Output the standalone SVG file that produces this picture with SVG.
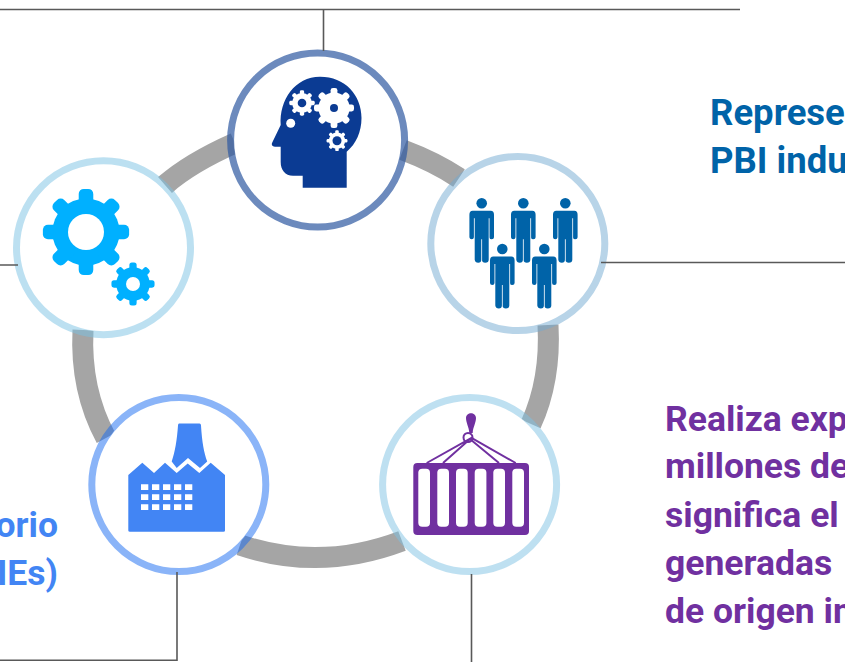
<svg xmlns="http://www.w3.org/2000/svg" width="845" height="662" viewBox="0 0 845 662">
<style>
.f{fill:#fff}
.n{fill:none;stroke-width:7}
.c{fill:none;stroke:#595959;stroke-width:1.6}
.t{font-family:Roboto,"Liberation Sans",sans-serif;font-weight:700;font-size:35.5px}
.w{fill:#fff}
</style>
<defs>
<path id="person" d="M-9-34.500H9Q12.300-34.500 12.300-30.500V-8Q12.300-6 10-6T7.800-8V-27H7V14.500Q7 17.400 3.500 17.400T.4 14.500V-6H-.4V14.500Q-.4 17.400-3.500 17.400T-7 14.500V-27H-7.800V-8Q-7.800-6-10-6T-12.300-8V-30.500Q-12.300-34.500-9-34.500Z"/>
<g id="g8"><circle r="30"/><rect x="-6.500" y="-38.500" width="13" height="77" rx="4.500"/><rect x="-6.500" y="-38.500" width="13" height="77" rx="4.500" transform="rotate(45)"/><rect x="-6.500" y="-38.500" width="13" height="77" rx="4.500" transform="rotate(90)"/><rect x="-6.500" y="-38.500" width="13" height="77" rx="4.500" transform="rotate(135)"/></g>
</defs>
<g id="ring" fill="none" stroke="#a5a5a5" stroke-width="21">
<path d="M165 185Q190 163 235 143"/>
<path d="M403 150Q435 162 459 178"/>
<path d="M548 325Q551 380 531 424"/>
<path d="M402 541Q320 572 240 545"/>
<path d="M83 330Q80 390 106 438"/>
</g>
<g id="node-brain"><circle class="f" cx="317.600" cy="140" r="84"/><circle class="n" cx="317.600" cy="140" r="87" stroke="#2e59a1" stroke-opacity=".7"/>
<path fill="#0b3b93" d="M320 76.700C345 76.700 361.500 95 361.500 118C361.500 132 356 144 346.700 151.700V187.700H302.700V175.700H293C285 175.700 280.700 170 280.700 162V146.700H275C272 146.700 271 144.500 272.500 142L280.700 125C279 100 295 76.700 320 76.700Z"/>
<g class="w"><circle cx="290.700" cy="123.300" r="4.500"/>
<use href="#g8" transform="translate(302 103) scale(.33)"/><use href="#g8" transform="translate(334 108) scale(.52)"/><use href="#g8" transform="translate(337 140.700) scale(.27)"/></g>
<g fill="#0b3b93"><circle cx="302" cy="103" r="4.300"/><circle cx="334" cy="108" r="4"/><circle cx="337" cy="140.700" r="4.500"/></g></g>
<g id="node-people"><circle class="f" cx="517.800" cy="243.500" r="84"/><circle class="n" cx="517.800" cy="243.500" r="87" stroke="#71a9d1" stroke-opacity=".5"/>
<g fill="#0063a8"><circle cx="481.700" cy="203.300" r="5.300"/><circle cx="523.300" cy="203.300" r="5.300"/><circle cx="565.300" cy="203.300" r="5.300"/><circle cx="502.300" cy="249" r="5.300"/><circle cx="544.300" cy="249" r="5.300"/>
<use href="#person" transform="translate(481.700 245.300)"/><use href="#person" transform="translate(523.300 245.300)"/><use href="#person" transform="translate(565.300 245.300)"/><use href="#person" transform="translate(502.300 291)"/><use href="#person" transform="translate(544.300 291)"/></g></g>
<g id="node-gears"><circle class="f" cx="103.500" cy="247.700" r="84"/><circle class="n" cx="103.500" cy="247.700" r="87" stroke="#79c1e3" stroke-opacity=".5"/>
<g fill="#00b0ff"><use href="#g8" transform="translate(86 232) scale(1.120)"/><use href="#g8" transform="translate(133 284) scale(.56)"/></g>
<circle class="w" cx="86" cy="232" r="18"/><circle class="w" cx="133" cy="284" r="7"/></g>
<g id="node-factory"><circle class="f" cx="178.800" cy="484.500" r="84"/><circle class="n" cx="178.800" cy="484.500" r="87" stroke="#1569f1" stroke-opacity=".5"/>
<path fill="#4285f4" d="M179 423.500H199.500C200.500 423.500 201 424.500 201 425.500C202 442 204 453 207.200 461.500L200 468L188 458L176.700 468L171.700 461.500C175 452 177 440 178 425.500C178 424.500 178.500 423.500 179 423.500Z"/>
<path fill="#4285f4" d="M128.300 475L142.300 462.700L154 473L165 462.700L176.700 473L187.700 463.500L199.300 473L210.700 462.700L225 475V530.500Q225 531.700 223.500 531.700H130Q128.300 531.700 128.300 530.500Z"/>
<path class="w" d="M141 484.300h7.300v5.700h-7.300zM152 484.300h7.300v5.700h-7.300zM163 484.300h7.300v5.700h-7.300zM174 484.300h7.300v5.700h-7.300zM185 484.300h7.300v5.700h-7.300zM141 494.300h7.300v5.700h-7.300zM152 494.300h7.300v5.700h-7.300zM163 494.300h7.300v5.700h-7.300zM174 494.300h7.300v5.700h-7.300zM185 494.300h7.300v5.700h-7.300zM141 504.300h7.300v5.700h-7.300zM152 504.300h7.300v5.700h-7.300zM163 504.300h7.300v5.700h-7.300zM174 504.300h7.300v5.700h-7.300zM185 504.300h7.300v5.700h-7.300z"/></g>
<g id="node-container"><circle class="f" cx="469.600" cy="484.500" r="84"/><circle class="n" cx="469.600" cy="484.500" r="87" stroke="#7dc1e3" stroke-opacity=".5"/>
<path fill="#7030a0" d="M466 418C466 411.500 476 411.500 476 418C476 423 473 427 472.700 433H469.300C469 427 466 423 466 418Z"/>
<path fill="none" stroke="#7030a0" stroke-width="2" d="M426.700 463L471.500 438L515.700 463M443 463L470 439L499 463"/><circle cx="468" cy="437.500" r="4.500" fill="none" stroke="#7030a0" stroke-width="2"/>
<rect x="413.300" y="463" width="115.700" height="72" rx="4" fill="#7030a0"/>
<g class="w"><rect x="418.300" y="468.700" width="11.700" height="58" rx="4"/><rect x="437.300" y="468.700" width="11.700" height="58" rx="4"/><rect x="456" y="468.700" width="11.700" height="58" rx="4"/><rect x="474.700" y="468.700" width="11.700" height="58" rx="4"/><rect x="493.300" y="468.700" width="11.700" height="58" rx="4"/><rect x="512.300" y="468.700" width="11.700" height="58" rx="4"/></g></g>
<g id="connectors">
<path class="c" d="M0 9.500H740M323.500 9.500V51M0 265H18M601 262.500H845M177 572V660.300H0M471.500 574V662"/>
</g>
<g class="t" fill="#0063a8" style="font-size:36.500px"><text x="710" y="125">Represe</text><text x="710" y="173">PBI indu</text></g>
<g class="t" fill="#7030a0"><text x="665" y="431">Realiza exp</text><text x="665" y="478">millones de</text><text x="665" y="527">significa el</text><text x="665" y="575">generadas</text><text x="665" y="623">de origen in</text></g>
<g class="t" fill="#4285f4" text-anchor="end"><text x="58" y="537">orio</text><text x="58" y="585">IEs)</text></g>
</svg>
